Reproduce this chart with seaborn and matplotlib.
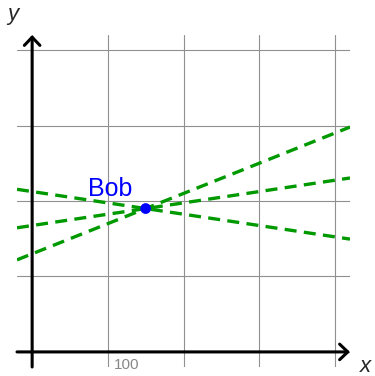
import numpy as np
import pandas as pd
import matplotlib
import matplotlib.pyplot as plt
import seaborn as sns

matplotlib.use('Agg')

# values
grid_ticks = [0, 100, 200, 300, 400]
line_x = [-20, 420]
line_steep = [122, 298]
line_mild = [164.5, 230.5]
line_down = [215.5, 149.5]
point_x = [150]
point_y = [190]
point_label = "Bob"
tick_label = "100"

sns.set_style("white")
plt.rcParams['font.family'] = ['Liberation Sans', 'DejaVu Sans']

fig = plt.figure(figsize=(3.75, 3.76), dpi=100)
ax = fig.add_axes([17 / 375, 9 / 376, 333 / 375, 332 / 376])
ax.set_xlim(-20, 420)
ax.set_ylim(-20, 420)

for name, ys in [("steep", line_steep), ("mild", line_mild), ("down", line_down)]:
    df = pd.DataFrame({"x": line_x, "y": ys})
    sns.lineplot(data=df, x="x", y="y", ax=ax, color="#009900", lw=2.4,
                 linestyle=(0, (3.6, 2.2)), zorder=3)

sns.scatterplot(x=point_x, y=point_y, ax=ax, color="#0000ff", s=60,
                edgecolor="none", zorder=5)
ax.text(74, 206.5, point_label, color="#0000ff", fontsize=18,
        ha="left", va="baseline", zorder=6)

# grid
ax.set_xticks(grid_ticks)
ax.set_yticks(grid_ticks)
ax.grid(True, color="#909090", lw=0.8)
ax.tick_params(length=0, labelbottom=False, labelleft=False)
for s in ax.spines.values():
    s.set_visible(False)
ax.set_xlabel("")
ax.set_ylabel("")

# axes with arrows
arrow = dict(arrowstyle="->, head_length=0.42, head_width=0.4", lw=2.2,
             color="black", shrinkA=0, shrinkB=0, mutation_scale=14)
ax.annotate("", xy=(420, 0), xytext=(-20, 0), arrowprops=arrow,
            annotation_clip=False, zorder=4)
ax.annotate("", xy=(0, 420), xytext=(0, -20), arrowprops=arrow,
            annotation_clip=False, zorder=4)

ax.text(108, -22.5, tick_label, color="#888888", fontsize=11,
        ha="left", va="baseline")

fig.text(7 / 375, 1 - 20 / 376, "y", fontsize=16, style="italic",
         ha="left", va="baseline")
fig.text(360 / 375, 4 / 376, "x", fontsize=16, style="italic",
         ha="left", va="baseline")

fig.savefig("out.png", dpi=100)
